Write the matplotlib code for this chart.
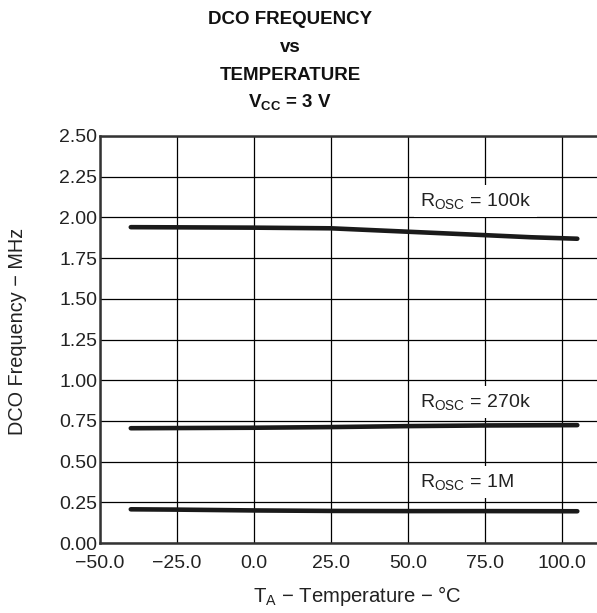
import matplotlib
matplotlib.use("Agg")
import matplotlib.pyplot as plt

# Courbes (température °C, fréquence MHz)
temp_100k = [-40, -25, 0, 25, 50, 75, 90, 105]
freq_100k = [1.940, 1.939, 1.937, 1.933, 1.912, 1.891, 1.878, 1.869]

temp_270k = [-40, 0, 25, 50, 75, 105]
freq_270k = [0.705, 0.708, 0.712, 0.718, 0.722, 0.724]

temp_1m = [-40, -25, 0, 25, 50, 75, 105]
freq_1m = [0.207, 0.205, 0.200, 0.197, 0.196, 0.196, 0.195]

labels = ["100k", "270k", "1M"]
label_pos = [(54.0, 2.10), (54.0, 0.865), (54.0, 0.375)]

xticks = [-50, -25, 0, 25, 50, 75, 100]
yticks = [0.0, 0.25, 0.5, 0.75, 1.0, 1.25, 1.5, 1.75, 2.0, 2.25, 2.5]

plt.rcParams["font.family"] = ["Liberation Sans", "DejaVu Sans"]
plt.rcParams["mathtext.fontset"] = "custom"
plt.rcParams["mathtext.rm"] = "Liberation Sans"
plt.rcParams["mathtext.it"] = "Liberation Sans"
plt.rcParams["mathtext.bf"] = "Liberation Sans:bold"
plt.rcParams["mathtext.default"] = "regular"

fig = plt.figure(figsize=(5.97, 6.13), dpi=100)
ax = fig.add_axes([100 / 597, 70 / 613, 497 / 597, 407 / 613])

line_kw = dict(color="#1a1a1a", lw=3.3, solid_capstyle="round", zorder=3)
ax.plot(temp_100k, freq_100k, **line_kw)
ax.plot(temp_270k, freq_270k, **line_kw)
ax.plot(temp_1m, freq_1m, **line_kw)

for lab, (x, y) in zip(labels, label_pos):
    ax.text(x, y, r"R$_{OSC}$ = " + lab, fontsize=14, color="#222222",
            ha="left", va="center", zorder=4,
            bbox=dict(boxstyle="square,pad=0.3", fc="white", ec="none"))

ax.set_xlim(-50, 111.4)
ax.set_ylim(0, 2.5)
ax.set_xticks(xticks)
ax.set_yticks(yticks)
ax.set_xticklabels(["\u2212%.1f" % abs(t) if t < 0 else "%.1f" % t for t in xticks])
ax.set_yticklabels(["%.2f" % v for v in yticks])
ax.tick_params(axis="both", length=0, labelsize=14, colors="#222222")
ax.tick_params(axis="x", pad=9)
ax.tick_params(axis="y", pad=2)
ax.grid(True, color="black", lw=0.9)
ax.set_axisbelow(True)

for side in ["left", "top", "bottom"]:
    ax.spines[side].set_linewidth(1.8)
    ax.spines[side].set_color("#333333")
ax.spines["right"].set_visible(False)

fig.text(18 / 597, 1 - 331 / 613, "DCO Frequency \u2212 MHz", rotation=90,
         ha="center", va="center", fontsize=14.3, color="#222222")
fig.text(357 / 597, 1 - 596 / 613, "T$_{A}$ \u2212 Temperature \u2212 °C",
         ha="center", va="center", fontsize=14.6, color="#222222")

title_lines = ["DCO FREQUENCY", "vs", "TEMPERATURE", r"V$_{\mathbf{CC}}$ = 3 V"]
title_y = [19, 48, 75, 102]
for t, y in zip(title_lines, title_y):
    fig.text(290 / 597, 1 - y / 613, t, ha="center", va="center",
             fontsize=13.5, fontweight="bold", color="#111111")

fig.savefig("out.png", dpi=100)
